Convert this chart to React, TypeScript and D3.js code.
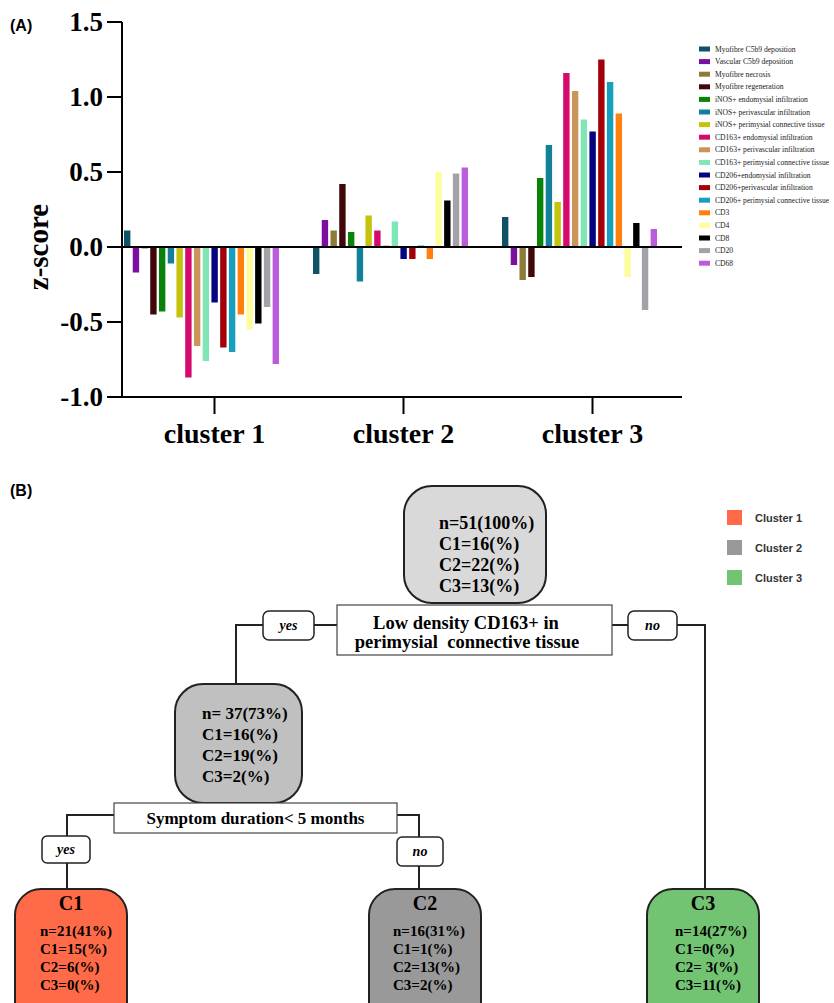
import React from "react";
import * as d3 from "d3";

const clusters = ["cluster 1", "cluster 2", "cluster 3"];
const markers = [
  "Myofibre C5b9 deposition",
  "Vascular C5b9 deposition",
  "Myofibre necrosis",
  "Myofibre regeneration",
  "iNOS+ endomysial infiltration",
  "iNOS+ perivascular infiltration",
  "iNOS+ perimysial connective tissue",
  "CD163+ endomysial infiltration",
  "CD163+ perivascular infiltration",
  "CD163+ perimysial connective tissue",
  "CD206+endomysial infiltration",
  "CD206+perivascular infiltration",
  "CD206+ perimysial connective tissue",
  "CD3",
  "CD4",
  "CD8",
  "CD20",
  "CD68",
];
const markerColors = [
  "#0f5266", "#7a0fa0", "#8e7b3c", "#400808", "#0a820a", "#13809a",
  "#c4c40c", "#d60a6c", "#c9955a", "#80e6b6", "#05057f", "#a3000a",
  "#17a0bd", "#ff800e", "#fdfd9c", "#000000", "#a2a2a8", "#bb5ddb",
];
const cluster1Values = [0.11, -0.17, -0.01, -0.45, -0.43, -0.11, -0.47, -0.87, -0.66, -0.76, -0.37, -0.67, -0.7, -0.45, -0.55, -0.51, -0.4, -0.78];
const cluster2Values = [-0.18, 0.18, 0.11, 0.42, 0.1, -0.23, 0.21, 0.11, 0.01, 0.17, -0.08, -0.08, 0.01, -0.08, 0.5, 0.31, 0.49, 0.53];
const cluster3Values = [0.2, -0.12, -0.22, -0.2, 0.46, 0.68, 0.3, 1.16, 1.04, 0.85, 0.77, 1.25, 1.1, 0.89, -0.2, 0.16, -0.42, 0.12];
const clusterValues = [cluster1Values, cluster2Values, cluster3Values];
const yTicks = [-1.0, -0.5, 0.0, 0.5, 1.0, 1.5];

const treeLegend = ["Cluster 1", "Cluster 2", "Cluster 3"];
const treeLegendColors = ["#ff6b48", "#999999", "#72c472"];
const rootLines = ["n=51(100%)", "C1=16(%)", "C2=22(%)", "C3=13(%)"];
const midLines = ["n= 37(73%)", "C1=16(%)", "C2=19(%)", "C3=2(%)"];
const leafTitles = ["C1", "C2", "C3"];
const leafLines = [
  ["n=21(41%)", "C1=15(%)", "C2=6(%)", "C3=0(%)"],
  ["n=16(31%)", "C1=1(%)", "C2=13(%)", "C3=2(%)"],
  ["n=14(27%)", "C1=0(%)", "C2= 3(%)", "C3=11(%)"],
];

const serif = "'Liberation Serif', 'Times New Roman', serif";
const sans = "'Liberation Sans', Arial, sans-serif";

export default function App() {
  const y = d3.scaleLinear().domain([-1, 1.5]).range([397, 22]);
  const x = d3.scaleBand().domain(clusters).range([120, 687]);
  const xi = d3.scaleBand().domain(markers).range([4, 159]).paddingInner(0.27);
  const fmt = (v: number) => d3.format(".1f")(v).replace("\u2212", "-");
  const axisLeft = 122;
  const axisRight = 682;

  const line = (pts: [number, number][]) => d3.line()(pts) as string;

  const leafX = [15, 369, 647];
  const leafW = 112;
  const leafTextDx = [25, 24, 28];

  return (
    <svg width={834} height={1003} style={{ position: "absolute", left: 0, top: 0, background: "#fff" }}>
      {/* Panel A */}
      <text x={10} y={31} fontFamily={sans} fontWeight="bold" fontSize={16}>(A)</text>
      {clusters.map((c, ci) => (
        <g key={c}>
          {clusterValues[ci].map((v, mi) => (
            <rect
              key={mi}
              x={(x(c) as number) + (xi(markers[mi]) as number)}
              y={Math.min(y(v), y(0))}
              width={xi.bandwidth()}
              height={Math.max(0.8, Math.abs(y(v) - y(0)))}
              fill={markerColors[mi]}
            />
          ))}
        </g>
      ))}
      {/* y axis */}
      <line x1={axisLeft} x2={axisLeft} y1={y(1.5)} y2={y(-1)} stroke="#000" strokeWidth={2} />
      {yTicks.map((t) => (
        <g key={t}>
          <line x1={107} x2={axisLeft} y1={y(t)} y2={y(t)} stroke="#000" strokeWidth={2} />
          <text x={103} y={y(t)} dy="0.35em" textAnchor="end" fontFamily={serif} fontWeight="bold" fontSize={27}>
            {fmt(t)}
          </text>
        </g>
      ))}
      <line x1={axisLeft} x2={axisRight} y1={y(0)} y2={y(0)} stroke="#000" strokeWidth={2} />
      <line x1={axisLeft - 1} x2={axisRight} y1={y(-1)} y2={y(-1)} stroke="#000" strokeWidth={2} />
      {clusters.map((c) => {
        const cx = (x(c) as number) + x.bandwidth() / 2;
        return (
          <g key={c}>
            <line x1={cx} x2={cx} y1={y(-1)} y2={414} stroke="#000" strokeWidth={2} />
            <text x={cx} y={443} textAnchor="middle" fontFamily={serif} fontWeight="bold" fontSize={28}>
              {c}
            </text>
          </g>
        );
      })}
      <text
        transform={`translate(48, ${y(0)}) rotate(-90)`}
        textAnchor="middle"
        fontFamily={serif}
        fontWeight="bold"
        fontSize={29}
      >
        z-score
      </text>
      {/* legend A */}
      {markers.map((m, i) => (
        <g key={m} transform={`translate(699, ${49 + i * 12.6})`}>
          <rect x={0} y={-2.5} width={11} height={5} fill={markerColors[i]} />
          <text x={16} y={0} dy="0.33em" fontFamily={serif} fontSize={7.6} fill="#222">
            {m}
          </text>
        </g>
      ))}

      {/* Panel B */}
      <text x={10} y={496} fontFamily={sans} fontWeight="bold" fontSize={16}>(B)</text>
      {treeLegend.map((l, i) => (
        <g key={l} transform={`translate(727, ${510 + i * 30})`}>
          <rect x={0} y={0} width={15} height={15} fill={treeLegendColors[i]} />
          <text x={28} y={12} fontFamily={sans} fontWeight="bold" fontSize={11} fill="#333">
            {l}
          </text>
        </g>
      ))}

      {/* connectors */}
      <g fill="none" stroke="#222" strokeWidth={2}>
        <path d={line([[337, 625], [314, 625]])} />
        <path d={line([[263, 625], [236, 625], [236, 684]])} />
        <path d={line([[612, 625], [628, 625]])} />
        <path d={line([[677, 625], [705, 625], [705, 889]])} />
        <path d={line([[114, 815], [67, 815], [67, 836]])} />
        <path d={line([[67, 863], [67, 889]])} />
        <path d={line([[397, 815], [419, 815], [419, 837]])} />
        <path d={line([[419, 866], [419, 889]])} />
      </g>

      {/* root node */}
      <rect x={404} y={486} width={142} height={117} rx={28} fill="#d9d9d9" stroke="#222" strokeWidth={2} />
      {rootLines.map((t, i) => (
        <text key={t} x={439} y={529 + i * 21} fontFamily={serif} fontWeight="bold" fontSize={18}>{t}</text>
      ))}
      {/* condition 1 */}
      <rect x={337} y={605} width={275} height={50} fill="#fff" stroke="#444" strokeWidth={1.2} />
      <text x={466} y={629} textAnchor="middle" fontFamily={serif} fontWeight="bold" fontSize={18.5}>Low density CD163+ in</text>
      <text x={467} y={648} textAnchor="middle" fontFamily={serif} fontWeight="bold" fontSize={18.5} style={{ whiteSpace: "pre" }}>
        perimysial  connective tissue
      </text>
      {/* yes / no at root */}
      <rect x={263} y={611} width={51} height={29} rx={6} fill="#fff" stroke="#222" strokeWidth={1.5} />
      <text x={288.5} y={630} textAnchor="middle" fontFamily={serif} fontStyle="italic" fontWeight="bold" fontSize={14}>yes</text>
      <rect x={628} y={611} width={49} height={29} rx={6} fill="#fff" stroke="#222" strokeWidth={1.5} />
      <text x={652.5} y={630} textAnchor="middle" fontFamily={serif} fontStyle="italic" fontWeight="bold" fontSize={14}>no</text>

      {/* mid node */}
      <rect x={175} y={684} width={127} height={119} rx={28} fill="#c0c0c0" stroke="#222" strokeWidth={2} />
      {midLines.map((t, i) => (
        <text key={t} x={202} y={719 + i * 21} fontFamily={serif} fontWeight="bold" fontSize={17} style={{ whiteSpace: "pre" }}>{t}</text>
      ))}
      {/* condition 2 */}
      <rect x={114} y={803} width={283} height={30} fill="#fff" stroke="#444" strokeWidth={1.2} />
      <text x={255.5} y={824} textAnchor="middle" fontFamily={serif} fontWeight="bold" fontSize={17}>Symptom duration&lt; 5 months</text>
      <rect x={42} y={836} width={48} height={27} rx={5} fill="#fff" stroke="#222" strokeWidth={1.5} />
      <text x={66} y={854} textAnchor="middle" fontFamily={serif} fontStyle="italic" fontWeight="bold" fontSize={14}>yes</text>
      <rect x={397} y={837} width={46} height={29} rx={5} fill="#fff" stroke="#222" strokeWidth={1.5} />
      <text x={420} y={856} textAnchor="middle" fontFamily={serif} fontStyle="italic" fontWeight="bold" fontSize={14}>no</text>

      {/* leaves */}
      {leafTitles.map((t, i) => (
        <g key={t}>
          <rect x={leafX[i]} y={889} width={leafW} height={140} rx={26} fill={treeLegendColors[i]} stroke="#222" strokeWidth={2} />
          <text x={leafX[i] + leafW / 2} y={910} textAnchor="middle" fontFamily={serif} fontWeight="bold" fontSize={20}>{t}</text>
          {leafLines[i].map((s, j) => (
            <text key={s} x={leafX[i] + leafTextDx[i]} y={936 + j * 18} fontFamily={serif} fontWeight="bold" fontSize={15} style={{ whiteSpace: "pre" }}>{s}</text>
          ))}
        </g>
      ))}
    </svg>
  );
}
